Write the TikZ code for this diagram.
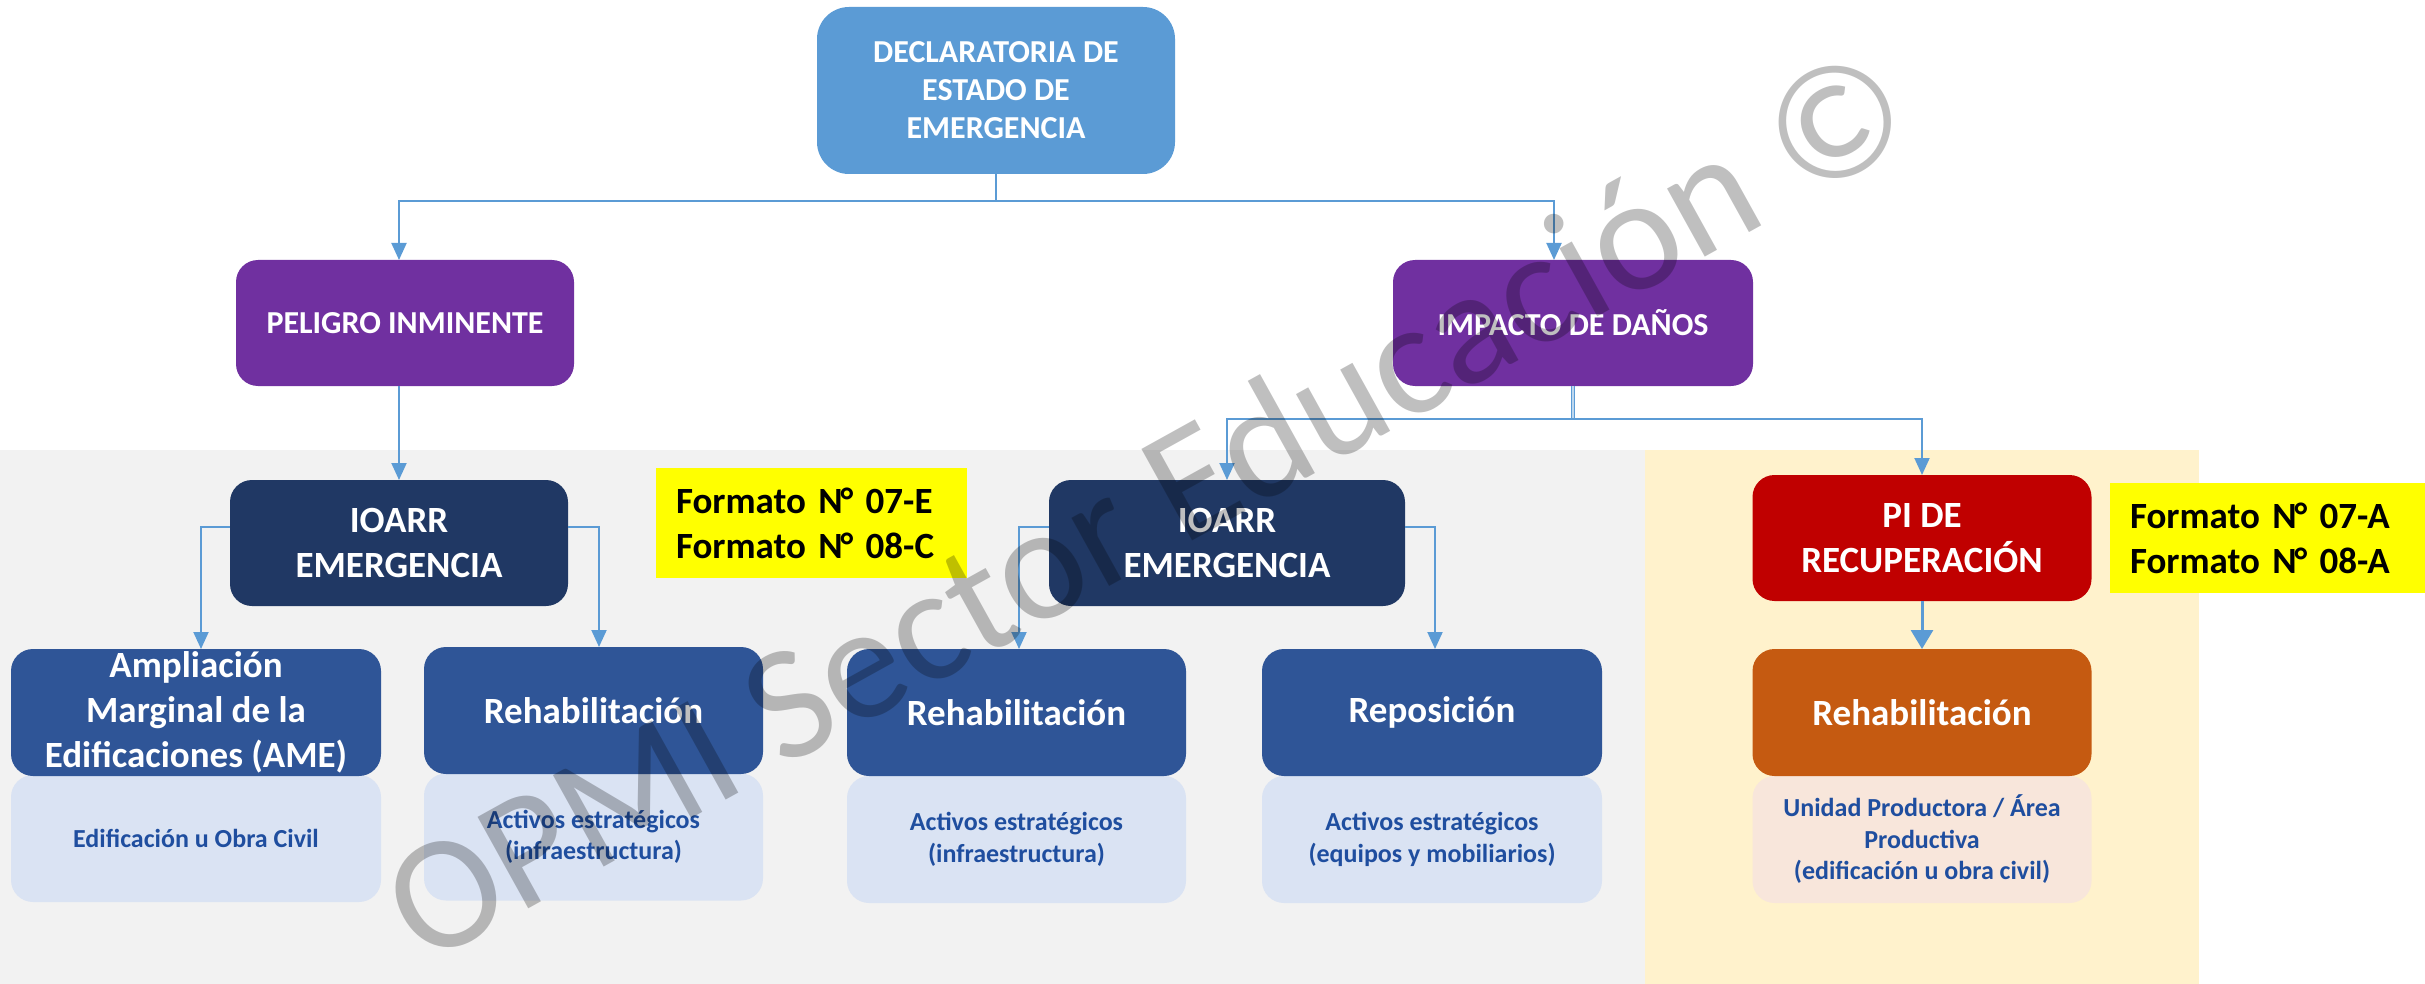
\documentclass[tikz,border=0pt]{standalone}
\usepackage{fontspec}
\setmainfont{Carlito}
\usetikzlibrary{arrows.meta}
\definecolor{cdecl}{HTML}{5B9BD5}
\definecolor{cpurp}{HTML}{7030A0}
\definecolor{cnavy}{HTML}{203864}
\definecolor{cblue}{HTML}{2F5597}
\definecolor{clight}{HTML}{DAE3F3}
\definecolor{cred}{HTML}{C00000}
\definecolor{corange}{HTML}{C55A11}
\definecolor{cpeach}{HTML}{F8E6DB}
\definecolor{cgraybg}{HTML}{F2F2F2}
\definecolor{cyelbg}{HTML}{FFF2CC}
\definecolor{cyel}{HTML}{FFFF00}
\definecolor{csubtxt}{HTML}{1F4E9F}
\newcommand{\Nd}{N\kern-2pt°}
\begin{document}
\begin{tikzpicture}[x=1pt,y=-1pt,
  box/.style={rounded corners=22, inner sep=0, outer sep=0, align=center, text=white, font=\bfseries\fontsize{37}{45}\selectfont},
  topbox/.style={box, font=\bfseries\fontsize{32}{38}\selectfont},
  subbox/.style={rounded corners=22, inner sep=0, outer sep=0, align=center, text=csubtxt, font=\bfseries\fontsize{26}{31.5}\selectfont, minimum height=127},
  ybox/.style={fill=cyel, inner sep=0, outer sep=0, align=left, text=black, font=\bfseries\fontsize{37}{45}\selectfont},
  conn/.style={draw=cdecl, line width=2},
  arr/.style={conn, -{Triangle[width=15pt,length=17pt]}},
  bigarr/.style={draw=cdecl, line width=3, -{Triangle[width=22pt,length=19pt]}}
]
\useasboundingbox (0,0) rectangle (2425,984);
% backgrounds
\fill[cgraybg] (0,450) rectangle (1645,984);
\fill[cyelbg] (1645,450) rectangle (2199,984);

% top levels
\node[topbox, fill=cdecl, rounded corners=32, minimum width=358, minimum height=167] (decl) at (996,90.5) {DECLARATORIA DE\\ESTADO DE\\EMERGENCIA};
\node[topbox, fill=cpurp, minimum width=338, minimum height=126] (pel) at (405,323) {PELIGRO INMINENTE};
\node[topbox, fill=cpurp, minimum width=360, minimum height=126] (imp) at (1573,323) {IMPACTO DE DAÑOS};

% second level
\node[box, fill=cnavy, minimum width=338, minimum height=126] (ioa1) at (399,543) {IOARR\\EMERGENCIA};
\node[box, fill=cnavy, minimum width=356, minimum height=126] (ioa2) at (1227,543) {IOARR\\EMERGENCIA};
\node[box, fill=cred, minimum width=339, minimum height=126] (pi) at (1922,538) {PI DE\\RECUPERACIÓN};

\node[ybox, minimum width=311, minimum height=110, text width=271] (f1) at (811.5,523) {Formato \Nd{} 07-E\\Formato \Nd{} 08-C};
\node[ybox, minimum width=315, minimum height=110, text width=275] (f2) at (2267.5,538) {Formato \Nd{} 07-A\\Formato \Nd{} 08-A};

% sub boxes
\node[subbox, fill=clight, minimum width=370] (ames) at (196,838.5) {Edificación u Obra Civil};
\node[subbox, fill=clight, minimum width=339] (reh1s) at (593.5,837) {Activos estratégicos\\(infraestructura)};
\node[subbox, fill=clight, minimum width=339] (reh2s) at (1016.5,839.5) {Activos estratégicos\\(infraestructura)};
\node[subbox, fill=clight, minimum width=340] (repos) at (1432,839.5) {Activos estratégicos\\(equipos y mobiliarios)};
\node[subbox, fill=cpeach, minimum width=339] (reh3s) at (1922,839.5) {Unidad Productora / Área\\Productiva\\(edificación u obra civil)};

% third level
\node[box, fill=cblue, minimum width=370, minimum height=127] (ame) at (196,712.5) {Ampliación\\Marginal de la\\Edificaciones (AME)};
\node[box, fill=cblue, minimum width=339, minimum height=127] (reh1) at (593.5,710.5) {Rehabilitación};
\node[box, fill=cblue, minimum width=339, minimum height=127] (reh2) at (1016.5,712.5) {Rehabilitación};
\node[box, fill=cblue, minimum width=340, minimum height=127] (repo) at (1432,712.5) {Reposición};
\node[box, fill=corange, minimum width=339, minimum height=127] (reh3) at (1922,712.5) {Rehabilitación};

% connectors
\draw[conn] (decl.south) -- ++(0,27) coordinate (t1);
\draw[arr] (t1) -| ([xshift=-6pt]pel.north);
\draw[arr] (t1) -| ([xshift=-19pt]imp.north);
\draw[arr] (pel.south -| ioa1.north) -- (ioa1.north);
\draw[draw=cdecl, line width=1.2, double=cdecl!40, double distance=2] (imp.south) -- ++(0,33) coordinate (t2);
\draw[arr] (t2) -| (ioa2.north);
\draw[arr] (t2) -| (pi.north);
\draw[arr] ([yshift=16pt]ioa1.west) -| ([xshift=5pt]ame.north);
\draw[arr] ([yshift=16pt]ioa1.east) -| ([xshift=5.5pt]reh1.north);
\draw[arr] ([yshift=16pt]ioa2.west) -| ([xshift=2.5pt]reh2.north);
\draw[arr] ([yshift=16pt]ioa2.east) -| ([xshift=3pt]repo.north);
\draw[bigarr] (pi.south) -- (reh3.north);

% watermark
\node[rotate=29, text=black, text opacity=0.25, inner sep=0, font=\fontsize{163}{163}\selectfont] (wm) at (1146,503) {OPMI Sector Educación ©};
\end{tikzpicture}
\end{document}
